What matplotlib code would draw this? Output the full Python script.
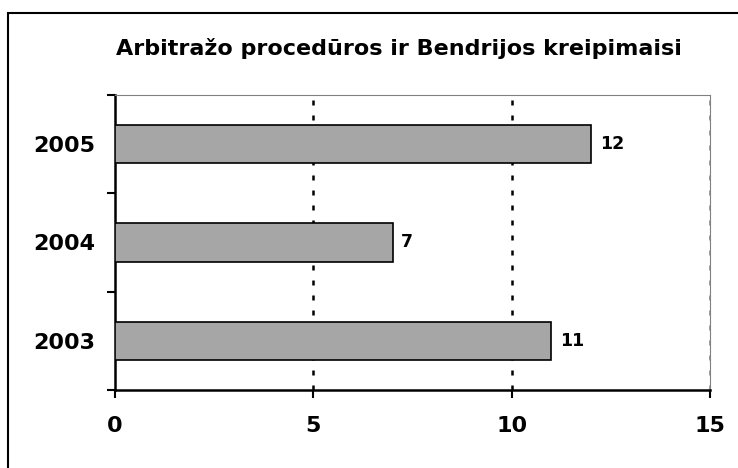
import matplotlib.pyplot as plt
from matplotlib.patches import Rectangle

years = ['2003', '2004', '2005']
counts = [11, 7, 12]

plt.rcParams['font.family'] = ['DejaVu Sans']

fig = plt.figure(figsize=(7.38, 4.68), dpi=100)
ax = fig.add_axes([0.1558, 0.1667, 0.8062, 0.6303])

pos = range(len(years))
ax.barh(pos, counts, height=0.39, color='#a6a6a6', edgecolor='black', linewidth=1.2, zorder=3)
for p, v in zip(pos, counts):
    ax.text(v + 0.22, p, str(v), va='center', ha='left', fontsize=12.5, fontweight='bold')

ax.set_xlim(0, 15)
ax.set_ylim(-0.5, 2.5)
ax.set_xticks([0, 5, 10, 15])
ax.set_xticklabels(['0', '5', '10', '15'], fontsize=16, fontweight='bold')
ax.set_yticks(pos)
ax.set_yticklabels(years, fontsize=16, fontweight='bold')
ax.set_yticks([-0.5, 0.5, 1.5, 2.5], minor=True)
ax.tick_params(axis='y', which='major', length=0, pad=14)
ax.tick_params(axis='y', which='minor', length=6, width=1.5, direction='out')
ax.tick_params(axis='x', length=6, width=1.5, direction='out', pad=13)

for x in [5, 10, 15]:
    ax.axvline(x, color='black' if x < 15 else 'gray', linestyle=(0, (2, 4)), linewidth=1.8, zorder=1)

ax.spines['left'].set_linewidth(1.8)
ax.spines['bottom'].set_linewidth(1.8)
ax.spines['top'].set_color('gray')
ax.spines['right'].set_color('gray')

fig.text(0.541, 0.897, 'Arbitražo procedūros ir Bendrijos kreipimaisi', ha='center', va='center',
         fontsize=16, fontweight='bold')

# outer frame, cut off at the right and bottom like the original
fig.patches.append(Rectangle((0.0115, -0.1), 1.2, 0.0722 + 1.0, transform=fig.transFigure,
                             fill=False, edgecolor='black', linewidth=1.5))

fig.savefig('out.png', dpi=100)
